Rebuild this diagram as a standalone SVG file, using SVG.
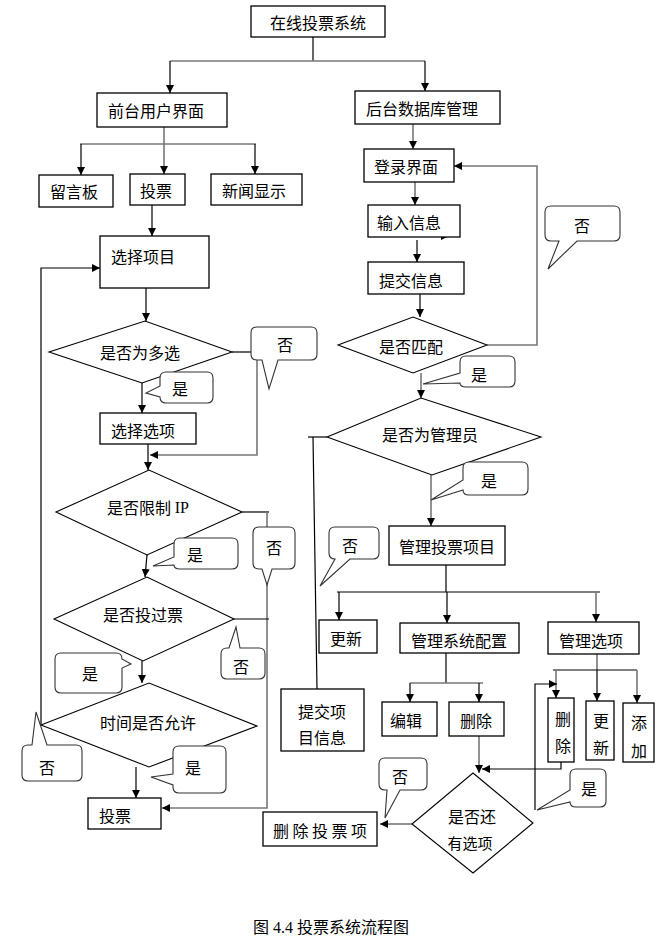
<svg xmlns="http://www.w3.org/2000/svg" width="664" height="938" viewBox="0 0 664 938">
<defs>
<marker id="ah" markerWidth="8" markerHeight="8" refX="8" refY="4" orient="auto" markerUnits="userSpaceOnUse"><path d="M0,0 L8,4 L0,8 Z" fill="#000"/></marker>
<style>
.box{fill:#fff;stroke:#000;stroke-width:1.3}
.dia{fill:#fff;stroke:#000;stroke-width:1.1}
.call{fill:#fff;stroke:#333;stroke-width:1.1}
.t{font-family:"Noto Sans CJK SC","Noto Sans",sans-serif;font-size:16px;fill:#000;dominant-baseline:central}
.m{text-anchor:middle}
.ln{fill:none;stroke:#000;stroke-width:1.2}
.gl{fill:none;stroke:#777;stroke-width:1.6}
.ar{marker-end:url(#ah)}
.cap{font-family:"Liberation Serif","Noto Sans CJK SC",serif;font-size:16px;fill:#000}
</style>
</defs>
<rect width="664" height="938" fill="#fff"/>

<g id="connectors">
<path class="ln" d="M313,37 V61"/>
<path class="gl" d="M170,61 H425"/>
<path class="ln ar" d="M170,61 V93"/>
<path class="ln ar" d="M425,61 V91"/>
<path class="gl ar" d="M164,127 V174"/>
<path class="gl" d="M80,144 H256"/>
<path class="ln ar" d="M81,144 V175"/>
<path class="ln ar" d="M255,144 V174"/>
<path class="ln ar" d="M152,205 V236"/>
<path class="ln ar" d="M146,288 V321"/>
<path class="ln ar" d="M142,383 V413"/>
<path class="ln" d="M232,352 H251"/>
<path class="gl ar" d="M257,360 V455 H150"/>
<path class="ln ar" d="M148,444 V470"/>
<path class="ln" d="M242,512 H269"/>
<path class="gl ar" d="M267,512 V808 H162"/>
<path class="ln ar" d="M147,555 L145,577"/>
<path class="ln" d="M234,619 H269"/>
<path class="ln ar" d="M142,661 V683"/>
<path class="ln ar" d="M136,767 V798"/>
<path class="ln ar" d="M41,725 V268 H100"/>
<path class="gl ar" d="M413,124 V149"/>
<path class="gl ar" d="M415,182 V205"/>
<path class="ln ar" d="M432,236 H449"/>
<path class="ln ar" d="M417,240 V262"/>
<path class="ln ar" d="M420,294 V317"/>
<path class="gl ar" d="M487,345 H537 V166 H454"/>
<path class="gl ar" d="M421,373 V398"/>
<path class="ln" d="M308,437 H327"/>
<path class="ln" d="M313,437 L317,689"/>
<path class="gl ar" d="M431,475 V526"/>
<path class="ln" d="M446,565 V592"/>
<path class="ln" d="M337,592 H600"/>
<path class="ln ar" d="M339,592 V620"/>
<path class="ln ar" d="M447,592 V623"/>
<path class="gl ar" d="M596,592 V622"/>
<path class="ln" d="M446,653 V683"/>
<path class="gl" d="M410,683 H483"/>
<path class="ln ar" d="M410,683 V702"/>
<path class="ln ar" d="M479,683 V702"/>
<path class="gl" d="M597,654 V670"/>
<path class="ln" d="M553,670 H637"/>
<path class="gl ar" d="M556,670 V698"/>
<path class="ln ar" d="M597,670 V701"/>
<path class="gl ar" d="M637,670 V703"/>
<path class="gl ar" d="M479,736 V773"/>
<path class="ln ar" d="M561,762 V769 H482"/>
<path class="gl ar" d="M412,824 H380"/>
<path class="ln ar" d="M535,810 V684 H557"/>
</g>

<g id="n_root"><rect class="box" x="251" y="6" width="134" height="31"/><text class="t m" x="318" y="22">在线投票系统</text></g>
<g id="n_front"><rect class="box" x="97" y="93" width="130" height="34"/><text class="t" x="108" y="110">前台用户界面</text></g>
<g id="n_back"><rect class="box" x="355" y="91" width="145" height="33"/><text class="t" x="366" y="108">后台数据库管理</text></g>
<g id="n_msg"><rect class="box" x="39" y="175" width="74" height="32"/><text class="t" x="50" y="191">留言板</text></g>
<g id="n_vote"><rect class="box" x="130" y="174" width="55" height="31"/><text class="t" x="140" y="190">投票</text></g>
<g id="n_news"><rect class="box" x="211" y="174" width="91" height="31"/><text class="t" x="222" y="190">新闻显示</text></g>
<g id="n_selproj"><rect class="box" x="100" y="236" width="109" height="52"/><text class="t" x="111" y="256">选择项目</text></g>
<g id="n_multi"><polygon class="dia" points="49,352 145,321 232,352 142,383"/><text class="t m" x="140" y="352">是否为多选</text></g>
<g id="n_selopt"><rect class="box" x="100" y="413" width="96" height="31"/><text class="t" x="111" y="430">选择选项</text></g>
<g id="n_ip"><polygon class="dia" points="56,512 149,470 242,512 147,555"/><text class="t m" x="148" y="507">是否限制 <tspan font-family="Liberation Serif">IP</tspan></text></g>
<g id="n_voted"><polygon class="dia" points="54,619 147,577 234,619 143,661"/><text class="t m" x="143" y="614">是否投过票</text></g>
<g id="n_time"><polygon class="dia" points="41,725 149,683 257,726 149,767"/><text class="t m" x="148" y="722">时间是否允许</text></g>
<g id="n_vote2"><rect class="box" x="88" y="798" width="73" height="31"/><text class="t" x="99" y="815">投票</text></g>
<g id="n_login"><rect class="box" x="364" y="149" width="90" height="33"/><text class="t" x="374" y="166">登录界面</text></g>
<g id="n_input"><rect class="box" x="368" y="205" width="92" height="32"/><text class="t" x="377" y="222">输入信息</text></g>
<g id="n_submit"><rect class="box" x="368" y="262" width="96" height="32"/><text class="t" x="379" y="280">提交信息</text></g>
<g id="n_match"><polygon class="dia" points="338,345 413,317 487,345 413,373"/><text class="t m" x="411" y="346">是否匹配</text></g>
<g id="n_admin"><polygon class="dia" points="327,437 421,398 541,437 432,475"/><text class="t m" x="430" y="434">是否为管理员</text></g>
<g id="n_manage"><rect class="box" x="389" y="526" width="116" height="39"/><text class="t" x="399" y="546">管理投票项目</text></g>
<g id="n_update"><rect class="box" x="319" y="620" width="58" height="33"/><text class="t" x="330" y="638">更新</text></g>
<g id="n_sysconf"><rect class="box" x="400" y="623" width="119" height="30"/><text class="t" x="411" y="640">管理系统配置</text></g>
<g id="n_opts"><rect class="box" x="548" y="622" width="91" height="32"/><text class="t" x="559" y="640">管理选项</text></g>
<g id="n_edit"><rect class="box" x="382" y="702" width="55" height="34"/><text class="t" x="390" y="720">编辑</text></g>
<g id="n_del"><rect class="box" x="449" y="702" width="55" height="34"/><text class="t" x="460" y="720">删除</text></g>
<g id="n_del2"><rect class="box" x="548" y="698" width="26" height="64"/><text class="t m" x="563" y="718">删</text><text class="t m" x="563" y="745">除</text></g>
<g id="n_upd2"><rect class="box" x="586" y="701" width="28" height="59"/><text class="t m" x="601" y="720">更</text><text class="t m" x="601" y="747">新</text></g>
<g id="n_add"><rect class="box" x="623" y="703" width="31" height="59"/><text class="t m" x="639" y="722">添</text><text class="t m" x="639" y="750">加</text></g>
<g id="n_subproj"><rect class="box" x="281" y="689" width="83" height="62"/><text class="t" x="298" y="711">提交项</text><text class="t" x="298" y="737">目信息</text></g>
<g id="n_more"><polygon class="dia" points="473,773 533,823 473,873 412,824"/><text class="t m" x="472" y="816">是否还</text><text class="t m" x="470" y="842" style="font-size:15px">有选项</text></g>
<g id="n_delproj"><rect class="box" x="263" y="812" width="114" height="34"/><text class="t" x="273" y="830" letter-spacing="3.5">删除投票项</text></g>

<g id="callouts">
<path class="call" d="M257,327 H311 Q317,327 317,333 V354 Q317,360 311,360 H278 L269,389 L262,360 H257 Q251,360 251,354 V333 Q251,327 257,327 Z"/><text class="t m" x="285" y="344">否</text>
<path class="call" d="M166,372 H207 Q213,372 213,378 V397 Q213,403 207,403 H166 Q160,403 160,397 L146,393 L160,386 V378 Q160,372 166,372 Z"/><text class="t m" x="180" y="388">是</text>
<path class="call" d="M259,527 H289 Q295,527 295,533 V563 Q295,569 289,569 H272 L267,585 L262,569 H259 Q253,569 253,563 V533 Q253,527 259,527 Z"/><text class="t m" x="274" y="547">否</text>
<path class="call" d="M180,538 H232 Q238,538 238,544 V563 Q238,569 232,569 H180 Q174,569 174,565 L153,566 L174,557 V544 Q174,538 180,538 Z"/><text class="t m" x="195" y="554">是</text>
<path class="call" d="M227,648 H229 L236,627 L240,648 H259 Q265,648 265,654 V673 Q265,679 259,679 H227 Q221,679 221,673 V654 Q221,648 227,648 Z"/><text class="t m" x="241" y="666">否</text>
<path class="call" d="M61,653 H116 Q122,653 122,659 L131,664 L122,668 V687 Q122,693 116,693 H61 Q55,693 55,687 V659 Q55,653 61,653 Z"/><text class="t m" x="90" y="673">是</text>
<path class="call" d="M28,745 H32 L36,712 L47,745 H76 Q82,745 82,751 V775 Q82,781 76,781 H28 Q22,781 22,775 V751 Q22,745 28,745 Z"/><text class="t m" x="47" y="767">否</text>
<path class="call" d="M179,746 H220 Q226,746 226,752 V787 Q226,793 220,793 H179 Q173,793 173,787 V785 L151,777 L173,774 V752 Q173,746 179,746 Z"/><text class="t m" x="193" y="767">是</text>
<path class="call" d="M551,206 H614 Q620,206 620,212 V235 Q620,241 614,241 H577 L548,269 L559,241 H551 Q545,241 545,235 V212 Q545,206 551,206 Z"/><text class="t m" x="582" y="225">否</text>
<path class="call" d="M466,356 H509 Q515,356 515,362 V381 Q515,387 509,387 H466 Q460,387 460,383 L423,384 L460,373 V362 Q460,356 466,356 Z"/><text class="t m" x="479" y="374">是</text>
<path class="call" d="M469,462 H522 Q528,462 528,468 V489 Q528,495 522,495 H469 Q463,495 463,490 L431,500 L463,480 V468 Q463,462 469,462 Z"/><text class="t m" x="489" y="480">是</text>
<path class="call" d="M335,527 H373 Q379,527 379,533 V553 Q379,559 373,559 H350 L320,586 L335,559 Q329,559 329,553 V533 Q329,527 335,527 Z"/><text class="t m" x="350" y="545">否</text>
<path class="call" d="M385,758 H421 Q427,758 427,764 V784 Q427,790 421,790 H400 L385,818 L387,790 H385 Q379,790 379,784 V764 Q379,758 385,758 Z"/><text class="t m" x="400" y="776">否</text>
<path class="call" d="M576,769 H600 Q606,769 606,775 V801 Q606,807 600,807 H576 Q570,807 570,802 L537,810 L570,790 V775 Q570,769 576,769 Z"/><text class="t m" x="589" y="788">是</text>
</g>

<text class="cap" x="253" y="933">图 4.4 投票系统流程图</text>
</svg>
